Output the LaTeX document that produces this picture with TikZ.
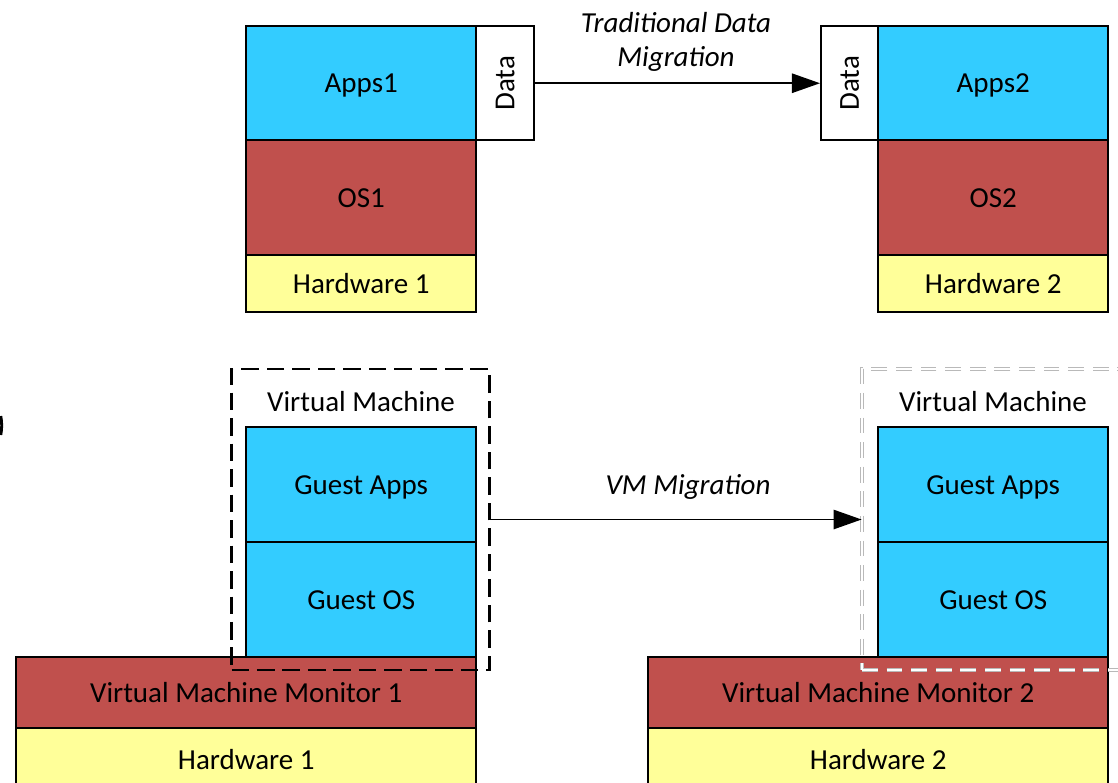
\documentclass[tikz,border=0pt]{standalone}
\usepackage{fontspec}
\setmainfont{Carlito}
\usetikzlibrary{arrows.meta}
\definecolor{appblue}{HTML}{33CCFF}
\definecolor{osred}{HTML}{C0504D}
\definecolor{hwyellow}{HTML}{FFFF99}
\tikzset{
  layer/.style={draw=black, line width=1.4pt, inner sep=0pt, anchor=north west,
    font=\fontsize{16.5}{19}\selectfont, text depth=-1.5pt},
  apps/.style={layer, fill=appblue},
  os/.style={layer, fill=osred},
  hw/.style={layer, fill=hwyellow},
  databox/.style={layer, fill=white},
  lbl/.style={font=\fontsize{16.5}{19}\selectfont},
  mig/.style={font=\fontsize{16.5}{19}\selectfont\itshape, align=center},
  vmbox/.style={draw=black, line width=1.3pt, dash pattern=on 10pt off 4.5pt, inner sep=0pt},
  vmghost/.style={draw=gray!55, line width=0.45pt, double=white, double distance=1.1pt,
    dash pattern=on 9pt off 5pt, inner sep=0pt},
  flow/.style={line width=1.1pt, -{Triangle[length=16pt,width=11pt]}}
}
\begin{document}
\begin{tikzpicture}[x=0.02cm, y=-0.02cm]
\clip (0,0) rectangle (1118,782);
\fill[white] (0,0) rectangle (1118,782);

% top: traditional data migration
\node[apps, minimum width=230*0.02cm, minimum height=114*0.02cm] (apps1) at (245,25) {Apps1};
\node[os,   minimum width=230*0.02cm, minimum height=115*0.02cm] (os1)   at (245,139) {OS1};
\node[hw,   minimum width=230*0.02cm, minimum height=57*0.02cm]  (hw1)   at (245,254) {Hardware 1};
\node[databox, minimum width=58*0.02cm, minimum height=114*0.02cm] (data1) at (475,25) {};
\node[lbl, rotate=90] at (data1.center) {Data};

\node[databox, minimum width=57*0.02cm, minimum height=114*0.02cm] (data2) at (820,25) {};
\node[lbl, rotate=90] at (data2.center) {Data};
\node[apps, minimum width=230*0.02cm, minimum height=114*0.02cm] (apps2) at (877,25) {Apps2};
\node[os,   minimum width=230*0.02cm, minimum height=115*0.02cm] (os2)   at (877,139) {OS2};
\node[hw,   minimum width=230*0.02cm, minimum height=57*0.02cm]  (hw2)   at (877,254) {Hardware 2};

\draw[flow] (data1.east) -- (data2.west);
\node[mig] (tdm) at (676,42) {Traditional Data\\Migration};

% bottom: virtual machine migration
\node[os, minimum width=460*0.02cm, minimum height=71*0.02cm] (vmm1) at (15,656) {Virtual Machine Monitor 1};
\node[hw, minimum width=460*0.02cm, minimum height=62*0.02cm] (bhw1) at (15,727) {Hardware 1};
\node[apps, minimum width=230*0.02cm, minimum height=115*0.02cm] (gapps1) at (245,426) {Guest Apps};
\node[apps, minimum width=230*0.02cm, minimum height=115*0.02cm] (gos1)   at (245,541) {Guest OS};
\node[vmbox, minimum width=258*0.02cm, minimum height=301*0.02cm] (vm1) at (360.5,519.5) {};
\node[lbl] (vm1label) at (361,402) {Virtual Machine};

\node[os, minimum width=460*0.02cm, minimum height=71*0.02cm] (vmm2) at (647,656) {Virtual Machine Monitor 2};
\node[hw, minimum width=460*0.02cm, minimum height=62*0.02cm] (bhw2) at (647,727) {Hardware 2};
\node[apps, minimum width=230*0.02cm, minimum height=115*0.02cm] (gapps2) at (877,426) {Guest Apps};
\node[apps, minimum width=230*0.02cm, minimum height=115*0.02cm] (gos2)   at (877,541) {Guest OS};
\node[vmghost, minimum width=268*0.02cm, minimum height=301*0.02cm] (vm2) at (996,519.5) {};
\node[lbl] (vm2label) at (993,402) {Virtual Machine};

\draw[flow] (vm1.east) -- (vm2.west);
\node[mig] (vmmig) at (688,487) {VM Migration};

% stray stroke at the left border
\draw[line width=1.6pt] (0.8,416) .. controls (2,422) and (2,429) .. (0.8,435);
\end{tikzpicture}
\end{document}
